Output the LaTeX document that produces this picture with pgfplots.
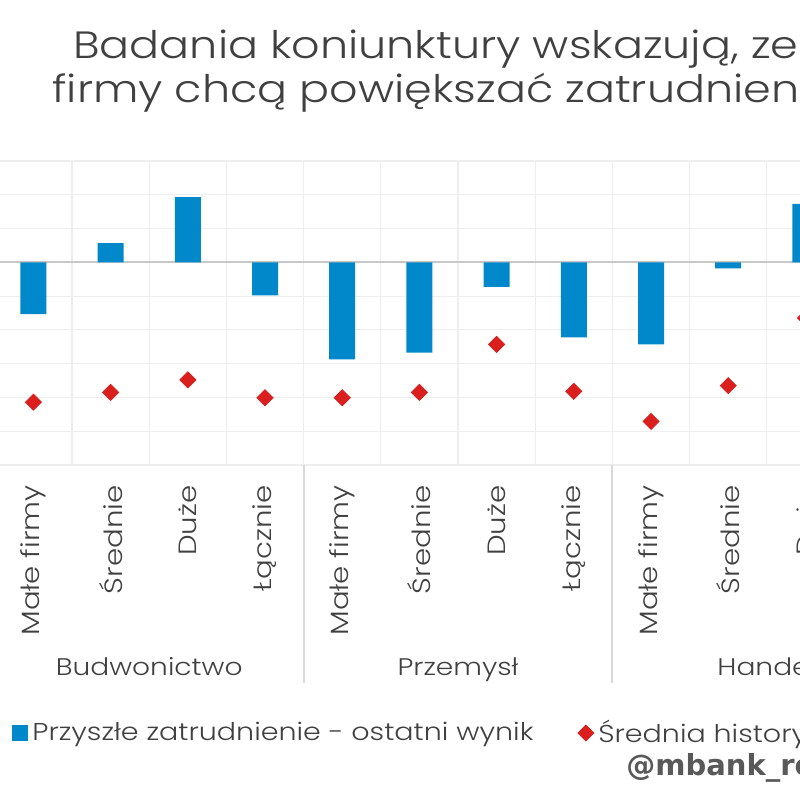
\documentclass[border=0pt]{standalone}
\usepackage{pgfplots}
\pgfplotsset{compat=1.18}
\usepackage{fontspec}
\setmainfont{Poppins}[UprightFont={* Light}, FakeStretch=1.17]
\newfontfamily\wmfont{DejaVu Sans}[UprightFont={* Bold}]
\definecolor{mblue}{HTML}{0088CA}
\definecolor{mred}{HTML}{DA1F1F}
\definecolor{txt}{HTML}{404040}
\definecolor{gridc}{HTML}{EEEEEE}
\definecolor{zeroc}{HTML}{C8C8C8}
\definecolor{sepc}{HTML}{D9D9D9}
\begin{document}
\begin{tikzpicture}[x=1pt,y=1pt]
\path[use as bounding box] (0pt,0pt) rectangle (400pt,400pt);
\clip (0pt,0pt) rectangle (400pt,400pt);
\begin{axis}[
  at={(0pt,167.5pt)}, anchor=south west,
  width=400pt, height=152pt, scale only axis,
  xmin=-0.433, xmax=9.930, ymin=-60, ymax=30,
  clip=false,
  axis line style={draw=none},
  tick style={draw=none},
  ytick={-60,-50,...,30}, yticklabels={},
  xtick={0,...,9},
  xticklabels={Małe firmy,Średnie,Duże,Łącznie,Małe firmy,Średnie,Duże,Łącznie,Małe firmy,Średnie},
  minor xtick={-0.5,0.5,...,9.5},
  xminorgrids=true, ymajorgrids=true, xmajorgrids=false,
  grid style={gridc, line width=0.6pt},
  minor grid style={gridc, line width=0.6pt},
  extra y ticks={0}, extra y tick labels={},
  extra y tick style={grid style={zeroc, line width=1pt}},
  xticklabel style={font=\fontsize{12.5}{14}\selectfont, text=txt, yshift=-10pt, rotate=90, anchor=east, inner sep=0pt},
  legend columns=2,
  legend cell align=left,
  legend style={draw=none, fill=none, at={(0.015,-0.8816)}, anchor=west, inner sep=0pt,
    font=\fontsize{12.2}{15}\selectfont, text=txt,
    /tikz/every even column/.append style={column sep=20pt}},
]
\addplot[ybar, bar width=13pt, fill=mblue, draw=none,
  legend image code/.code={\fill[mblue] (0pt,-4pt) rectangle (8pt,4pt);}]
  coordinates {(0,-15.3) (1,5.7) (2,19.3) (3,-9.8) (4,-28.7) (5,-26.7) (6,-7.3) (7,-22.2) (8,-24.3) (9,-1.8) (10,17.3)};
\addlegendentry{Przyszłe zatrudnienie - ostatni wynik}
\addplot[only marks, mark=square*, mark size=2.83pt, mark options={rotate=45, fill=mred, draw=mred},
  legend image code/.code={\fill[mred] (4pt,-4pt) -- (8pt,0pt) -- (4pt,4pt) -- (0pt,0pt) -- cycle;}]
  coordinates {(0,-41.4) (1,-38.5) (2,-34.8) (3,-40.1) (4,-40.1) (5,-38.5) (6,-24.3) (7,-38.2) (8,-47.1) (9,-36.5) (10,-16.5)};
\addlegendentry{Średnia historyczna}
\end{axis}
% label of the partly visible category
\node[font=\fontsize{12.5}{14}\selectfont, text=txt, rotate=90, anchor=east, inner sep=0pt] at (402.7pt,157.5pt) {Duże};
% group separators
\draw[sepc, line width=1pt] (151.8pt,167.5pt) -- (151.8pt,58.5pt);
\draw[sepc, line width=1pt] (306.2pt,167.5pt) -- (306.2pt,58.5pt);
% group labels
\node[font=\fontsize{12}{14}\selectfont, text=txt, anchor=base] at (74.6pt,62.5pt) {Budwonictwo};
\node[font=\fontsize{12}{14}\selectfont, text=txt, anchor=base] at (229pt,62.5pt) {Przemysł};
\node[font=\fontsize{12}{14}\selectfont, text=txt, anchor=base] at (383.4pt,62.5pt) {Handel};
% title
\node[font=\fontsize{19}{23}\selectfont, text=txt, anchor=base west, inner sep=0pt] at (36.5pt,370.5pt) {Badania koniunktury wskazują, ze};
\node[font=\fontsize{19}{23}\selectfont, text=txt, anchor=base west, inner sep=0pt] at (26pt,348.5pt) {firmy chcą powiększać zatrudnienie};
% watermark
\node[font=\wmfont\fontsize{14.5}{17}\selectfont, text=black!65, anchor=base west, inner sep=0pt] at (313pt,12.5pt) {@mbank\_research};
\end{tikzpicture}
\end{document}
